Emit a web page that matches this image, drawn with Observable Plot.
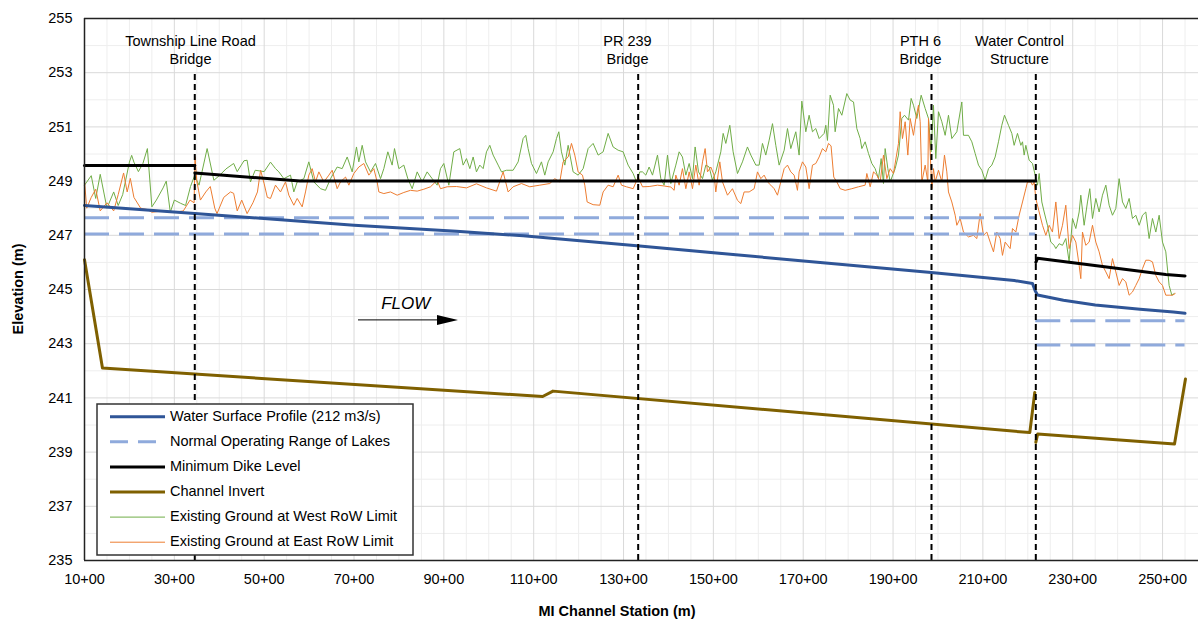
<!DOCTYPE html>
<html><head><meta charset="utf-8">
<script src="https://cdn.jsdelivr.net/npm/d3@7"></script>
<script src="https://cdn.jsdelivr.net/npm/@observablehq/plot@0.6"></script>
<style>
body{margin:0;background:#fff;}
#chart{width:1198px;height:619px;}
</style></head><body><div id="chart"></div>
<script>
// ---------- data ----------
const xTicks = [1000,3000,5000,7000,9000,11000,13000,15000,17000,19000,21000,23000,25000];
const yTicks = [235,237,239,241,243,245,247,249,251,253,255];

const bridgeStations = [3455, 13326, 19856, 22178];
const bridgeLabelStations = [3360, 13088, 19611, 21815];
const bridgeLine1 = ["Township Line Road", "PR 239", "PTH 6", "Water Control"];
const bridgeLine2 = ["Bridge", "Bridge", "Bridge", "Structure"];

const wsStation = [1000,3455,5141,7000,9281,10765,13421,15500,17562,19848,21700,22104,22164,22216,22794,23500,24500,25240,25500];
const wsElev    = [248.1,247.8,247.6,247.37,247.15,246.98,246.6,246.28,245.97,245.63,245.33,245.22,244.95,244.8,244.6,244.43,244.27,244.17,244.12];

const lakeStart = [1000,1000,22178,22178];
const lakeEnd   = [22178,22178,25500,25500];
const lakeLevel = [247.65,247.05,243.85,242.95];

const dikeStation = [1000,3455,3455,5800,22178,22178,22216,25072,25500];
const dikeElev    = [249.58,249.58,249.3,249.0,249.0,246.0,246.15,245.55,245.5];
const dikeReach   = [1,1,2,2,2,3,3,3,3];

const invertStation = [1000,1400,11200,11430,22044,22155,22178,22220,25266,25510];
const invertElev    = [246.1,242.1,241.05,241.25,239.72,241.2,239.36,239.67,239.3,241.7];
const invertReach   = [1,1,1,1,1,1,2,2,2,2];

const westStation = [1000,1150,1250,1350,1500,1650,1750,1850,2000,2050,2100,2200,2300,2400,2500,2600,2750,2820,2910,3000,3140,3250,3360,3450,3550,3730,3880,4000,4150,4320,4400,4550,4620,4695,4800,5000,
5141,5252,5327,5438,5586,5660,5735,5883,5994,6106,6254,6365,6477,6625,6736,6848,6959,7055,7107,7182,7256,7367,7478,7590,7664,7753,7849,7901,7998,8109,8198,8295,8406,8517,8628,8740,8851,8925,8999,9111,9222,
9355,9429,9504,9578,9652,9726,9800,9875,9949,10023,10097,10209,10283,10394,10542,10654,10765,10824,10876,10951,11062,11173,11247,11322,11433,11507,11559,11618,11693,11767,11878,11989,12101,12212,12323,12435,12546,12657,12768,12880,12991,13102,13214,13288,13362,
13422,13496,13570,13645,13756,13830,13904,13979,14053,14164,14238,14312,14387,14461,14535,14594,14669,14758,14832,14906,14980,15054,15166,15218,15277,15366,15440,15537,15648,15759,15834,15945,16019,16093,16167,16242,16316,16390,16464,16576,16650,16724,16835,16909,16969,17058,17132,17206,17280,17355,17466,17503,
17540,17600,17674,17711,17786,17860,17971,18045,18120,18194,18268,18305,18379,18453,18528,18602,18676,18735,18787,18824,18884,18936,19047,19121,19195,19255,19344,19403,19455,19529,19626,19715,19789,19848,19900,19952,20012,20086,20160,20234,20308,20420,20531,20568,20679,20754,20828,20902,20976,21050,21125,21199,21273,21347,21421,21481,21570,21644,
21696,21770,21845,21882,21919,21956,22030,22104,22164,22216,22253,22312,22364,22438,22512,22587,22624,22698,22772,22846,22920,22995,23069,23143,23180,23254,23329,23380,23440,23514,23588,23662,23737,23811,23885,23959,24033,24108,24182,24256,24330,24404,24479,24553,24627,24701,24775,24850,24924,24998,25072,25146,25206,25258];
const westElev = [248.85,249.2,248.36,249.25,248.0,248.6,248.1,248.5,249.7,249.95,249.7,249.35,249.65,250.2,248.05,248.3,248.75,249.0,247.85,248.3,248.18,248.1,248.8,249.2,248.85,250.2,249.03,249.2,249.45,249.65,249.35,249.75,249.77,248.97,249.4,249.35,
249.7,249.46,249.34,249.09,249.22,248.6,248.97,249.09,249.71,248.97,248.72,248.66,249.09,249.52,249.46,249.89,249.34,250.26,249.71,250.32,249.71,249.34,249.65,249.09,249.46,250.08,249.59,250.2,249.46,249.59,249.09,248.72,249.34,248.97,249.34,249.09,248.85,249.46,249.65,248.85,250.08,
250.2,249.59,249.83,249.46,249.89,249.34,249.59,249.46,250.08,250.32,249.96,249.59,249.34,249.4,249.4,249.71,250.57,250.69,250.2,249.65,249.28,249.71,249.22,249.71,250.08,250.57,250.82,250.08,249.59,250.32,249.34,249.22,249.46,250.2,250.39,249.96,250.08,250.76,250.26,250.14,250.08,249.59,249.28,248.97,249.34,
249.34,249.22,249.52,249.22,249.96,249.09,248.85,249.96,248.91,249.59,250.08,249.89,249.22,249.65,249.09,250.26,249.34,249.09,249.59,249.52,249.03,249.34,250.08,250.76,250.39,251.06,250.08,249.28,249.71,250.26,249.96,249.59,249.59,250.39,249.96,250.51,251.12,250.32,249.59,250.14,250.94,250.2,250.82,249.96,251.95,250.82,251.43,250.82,250.94,250.57,250.76,251.06,
250.5,252.17,251.8,250.82,251.68,251.43,252.23,251.99,251.92,250.94,250.57,250.2,250.45,250.02,249.65,249.46,249.09,249.83,248.91,250.2,249.46,248.97,249.46,249.96,251.31,251.43,251.25,252.05,251.8,251.31,252.17,251.68,251.31,250.08,251.8,249.83,251.56,251.19,250.69,251.43,250.57,250.82,251.92,250.69,250.69,250.45,250.02,249.59,249.4,249.03,249.46,249.59,249.89,250.45,251.06,251.43,251.06,250.76,
250.32,250.76,250.32,250.45,249.96,250.32,249.77,249.65,249.22,248.85,249.28,248.23,247.86,247.37,246.75,246.63,246.51,246.69,246.63,246.88,246.02,247.62,247.25,247.86,248.48,247.37,248.23,248.72,247.62,248.36,247.86,248.48,248.85,248.11,247.74,247.99,249.09,248.23,247.99,248.36,247.62,247.74,247.37,247.74,247.86,246.88,247.62,247.12,247.74,246.75,246.39,245.15,244.79,244.85];

const eastStation = [1000,1050,1150,1250,1350,1500,1650,1750,1870,1950,2020,2100,2250,2400,2500,2750,3000,3200,3350,3440,3460,3500,3580,3700,3800,3900,3950,4100,4250,4320,4400,4500,4620,4750,4850,4920,5000,5070,
5141,5252,5364,5475,5549,5660,5735,5846,5920,5994,6069,6143,6217,6328,6440,6514,6625,6699,6811,6885,6996,7107,7219,7330,7441,7515,7553,7664,7812,7961,8109,8257,8406,8554,8703,8851,8925,9074,
9281,9504,9726,9949,10171,10320,10431,10542,10728,10913,11136,11359,11470,11581,11655,11767,11841,11915,11989,12086,12138,12190,12323,12472,12546,12657,12768,12880,12954,13065,13214,13325,
13422,13570,13756,13904,14053,14127,14164,14238,14312,14387,14461,14535,14609,14683,14758,14817,14869,14943,15017,15054,15143,15203,15314,15425,15537,15611,15685,15796,15908,15982,16056,16130,16205,16279,16353,16427,16501,16576,16650,16724,16798,16872,16909,16984,17058,17132,17206,17280,17355,17429,17503,
17563,17620,17680,17749,17823,17934,18082,18231,18379,18416,18491,18565,18639,18713,18787,18862,18936,19010,19121,19158,19210,19270,19329,19381,19455,19507,19566,19604,19641,19715,19774,19789,19826,19863,19900,19937,20012,20086,20145,20197,20234,20308,20383,20420,20494,20568,20679,20791,20865,20939,21013,21088,21162,21236,21310,21384,21436,21496,21607,
21659,21733,21807,21882,21956,21993,22067,22104,22141,22178,22253,22327,22401,22475,22549,22624,22698,22772,22846,22920,22995,23069,23143,23180,23217,23291,23366,23440,23514,23588,23662,23737,23811,23885,23959,24033,24108,24182,24256,24330,24404,24479,24553,24627,24701,24775,24850,24924,24998,25072,25146,25221,25280];
const eastElev = [249.0,248.0,248.4,248.7,247.9,248.2,247.9,248.5,249.3,248.6,249.1,248.4,248.0,247.95,247.85,247.9,247.85,247.9,248.3,248.2,249.9,249.0,248.3,248.6,248.8,248.0,247.8,248.4,248.6,248.55,247.9,248.3,247.8,248.2,248.6,249.4,248.9,248.4,
248.36,248.85,248.6,248.97,248.48,248.11,248.36,248.05,248.6,249.22,249.46,248.97,249.34,248.97,249.22,249.4,248.72,248.97,249.15,248.85,249.28,249.52,249.65,249.22,249.46,248.97,248.6,248.54,248.6,248.48,248.58,248.66,248.63,248.7,248.79,249.03,248.72,248.79,
248.8,248.75,248.9,248.75,248.63,249.34,248.6,248.79,248.91,248.79,248.85,248.91,249.09,248.97,249.71,249.89,250.39,249.96,249.34,249.22,248.85,248.23,248.13,248.11,248.6,248.85,248.79,249.22,248.85,248.79,248.72,249.15,
248.79,248.8,248.85,248.82,248.78,248.66,249.22,248.85,249.46,248.72,249.34,248.72,249.59,248.85,249.71,250.2,249.34,249.52,249.22,248.6,249.71,248.97,248.48,248.72,248.29,248.17,248.6,248.6,248.72,249.34,249.09,249.22,248.97,248.85,248.72,248.48,248.97,249.46,249.59,249.34,249.22,248.66,249.34,249.71,249.52,248.72,249.59,249.65,249.89,250.2,250.08,
250.39,250.3,249.15,248.97,248.72,248.66,248.72,248.79,248.85,249.28,248.79,249.34,249.22,248.97,249.96,249.09,249.46,249.28,250.39,251.56,250.57,251.19,249.96,251.31,250.69,251.31,251.8,251.19,248.97,249.59,248.97,251.31,250.08,248.72,249.46,248.97,249.4,248.97,249.96,249.34,248.6,248.23,247.74,247.37,247.62,247.12,246.94,247.0,246.88,247.8,247.0,247.12,246.75,246.39,247.12,246.88,246.26,246.75,246.51,
247.25,247.12,247.74,248.23,248.72,248.97,248.97,248.85,248.97,248.36,247.86,247.37,247.0,247.37,247.12,248.23,246.88,247.37,248.11,246.51,247.0,246.75,245.89,245.4,247.12,246.63,246.75,247.37,246.75,246.39,245.89,245.65,245.4,246.14,245.65,245.15,245.4,245.28,244.79,244.91,245.15,245.4,245.77,246.08,246.08,246.02,245.52,245.28,245.15,244.79,244.79,244.79,244.85];

const flowText = "FLOW";
const flowTextStation = 8150, flowTextElev = 244.5;
const flowArrowStart = 7100, flowArrowEnd = 9326, flowArrowElev = 243.86;

const legendLabels = ["Water Surface Profile (212 m3/s)","Normal Operating Range of Lakes","Minimum Dike Level","Channel Invert","Existing Ground at West RoW Limit","Existing Ground at East RoW Limit"];

// ---------- build ----------
const C = {ws:"#2F5597", lake:"#8FAADC", dike:"#000000", inv:"#7F6000", west:"#70AD47", east:"#ED7D31"};
const zip = (xs, ys, zs) => xs.map((x,i)=>({x, y: ys[i], z: zs ? zs[i] : 1}));
const ws = zip(wsStation, wsElev), dike = zip(dikeStation, dikeElev, dikeReach), inv = zip(invertStation, invertElev, invertReach);
const west = zip(westStation, westElev), east = zip(eastStation, eastElev);
const lakes = lakeLevel.map((y,i)=>({x1: lakeStart[i], x2: lakeEnd[i], y}));
const bridges = bridgeStations.map((s,i)=>({s, ls: bridgeLabelStations[i], a: bridgeLine1[i], b: bridgeLine2[i]}));
const xMinor = d3.range(1500, 25600, 500).filter(v => !xTicks.includes(v));
const yMinor = d3.range(236, 255, 2);

const font = "'Liberation Sans', Arial, sans-serif";
const plot = Plot.plot({
  width: 1198, height: 619,
  marginLeft: 84, marginRight: 0, marginTop: 18, marginBottom: 59,
  style: {fontFamily: font, fontSize: "14.5px", color: "#000", background: "#fff", overflow: "visible"},
  x: {domain: [1000, 25800], ticks: xTicks, tickFormat: d => `${d/100}+00`, tickSize: 0, tickPadding: 13, label: null},
  y: {domain: [235, 255], ticks: yTicks, tickSize: 0, tickPadding: 12, label: null},
  marks: [
    Plot.ruleX(xMinor, {stroke: "#EEEEEE", strokeWidth: 1}),
    Plot.ruleY(yMinor, {stroke: "#EEEEEE", strokeWidth: 1}),
    Plot.ruleX(xTicks, {stroke: "#D9D9D9", strokeWidth: 1}),
    Plot.ruleY(yTicks, {stroke: "#D9D9D9", strokeWidth: 1}),
    Plot.line(west, {x: "x", y: "y", stroke: C.west, strokeWidth: 1}),
    Plot.line(east, {x: "x", y: "y", stroke: C.east, strokeWidth: 1}),
    Plot.ruleY(lakes, {y: "y", x1: "x1", x2: "x2", stroke: C.lake, strokeWidth: 3, strokeDasharray: "25,10"}),
    Plot.line(ws, {x: "x", y: "y", stroke: C.ws, strokeWidth: 3}),
    Plot.line(dike, {x: "x", y: "y", z: "z", stroke: C.dike, strokeWidth: 3}),
    Plot.line(inv, {x: "x", y: "y", z: "z", stroke: C.inv, strokeWidth: 3}),
    Plot.ruleX(bridges, {x: "s", y1: 235, y2: 253, stroke: "#000", strokeWidth: 2, strokeDasharray: "6,4"}),
    Plot.text(bridges, {x: "ls", y: 254.15, text: "a", fontSize: 14.5}),
    Plot.text(bridges, {x: "ls", y: 253.5, text: "b", fontSize: 14.5}),
    Plot.text([flowText], {x: flowTextStation, y: flowTextElev, text: d => d, fontStyle: "italic", fontSize: 17}),
    Plot.ruleY([255], {stroke: "#222", strokeWidth: 1.5}),
    Plot.ruleY([235], {stroke: "#222", strokeWidth: 1.5}),
    Plot.ruleX([1000], {stroke: "#222", strokeWidth: 1.5})
  ]
});
document.getElementById("chart").appendChild(plot);

const svg = d3.select(plot);
const sx = plot.scale("x").apply, sy = plot.scale("y").apply;
// flow arrow
const ax1 = sx(flowArrowStart), ax2 = sx(flowArrowEnd), ay = sy(flowArrowElev);
svg.append("line").attr("x1", ax1).attr("x2", ax2 - 18).attr("y1", ay).attr("y2", ay).attr("stroke", "#000").attr("stroke-width", 1);
svg.append("path").attr("d", `M${ax2},${ay} L${ax2-21},${ay-5} L${ax2-21},${ay+5} Z`).attr("fill", "#000");

// axis titles
svg.append("text").attr("x", 617).attr("y", 612).attr("text-anchor", "middle").attr("dominant-baseline", "middle")
  .attr("font-weight", "bold").attr("font-size", 14.5).attr("font-family", font).attr("fill", "#000").text("MI Channel Station (m)");
svg.append("text").attr("transform", "translate(19,289) rotate(-90)").attr("text-anchor", "middle").attr("dominant-baseline", "middle")
  .attr("font-weight", "bold").attr("font-size", 14.5).attr("font-family", font).attr("fill", "#000").text("Elevation (m)");

// legend
const lg = svg.append("g").attr("text-anchor", "start");
lg.append("rect").attr("x", 97).attr("y", 404).attr("width", 316).attr("height", 151).attr("fill", "#fff").attr("stroke", "#333").attr("stroke-width", 1.5);
const lgStroke = [C.ws, C.lake, C.dike, C.inv, C.west, C.east];
const lgWidth = [3, 3, 3, 3, 1, 1];
const lgDash = [null, "18,10", null, null, null, null];
legendLabels.forEach((t, i) => {
  const y = 416.7 + i * 25.1;
  lg.append("line").attr("x1", 110).attr("x2", 165).attr("y1", y).attr("y2", y)
    .attr("stroke", lgStroke[i]).attr("stroke-width", lgWidth[i]).attr("stroke-dasharray", lgDash[i]);
  lg.append("text").attr("x", 170).attr("y", y).attr("text-anchor", "start").attr("dominant-baseline", "middle").attr("font-size", 14.5)
    .attr("font-family", font).attr("fill", "#000").text(t);
});
</script>
</body></html>
